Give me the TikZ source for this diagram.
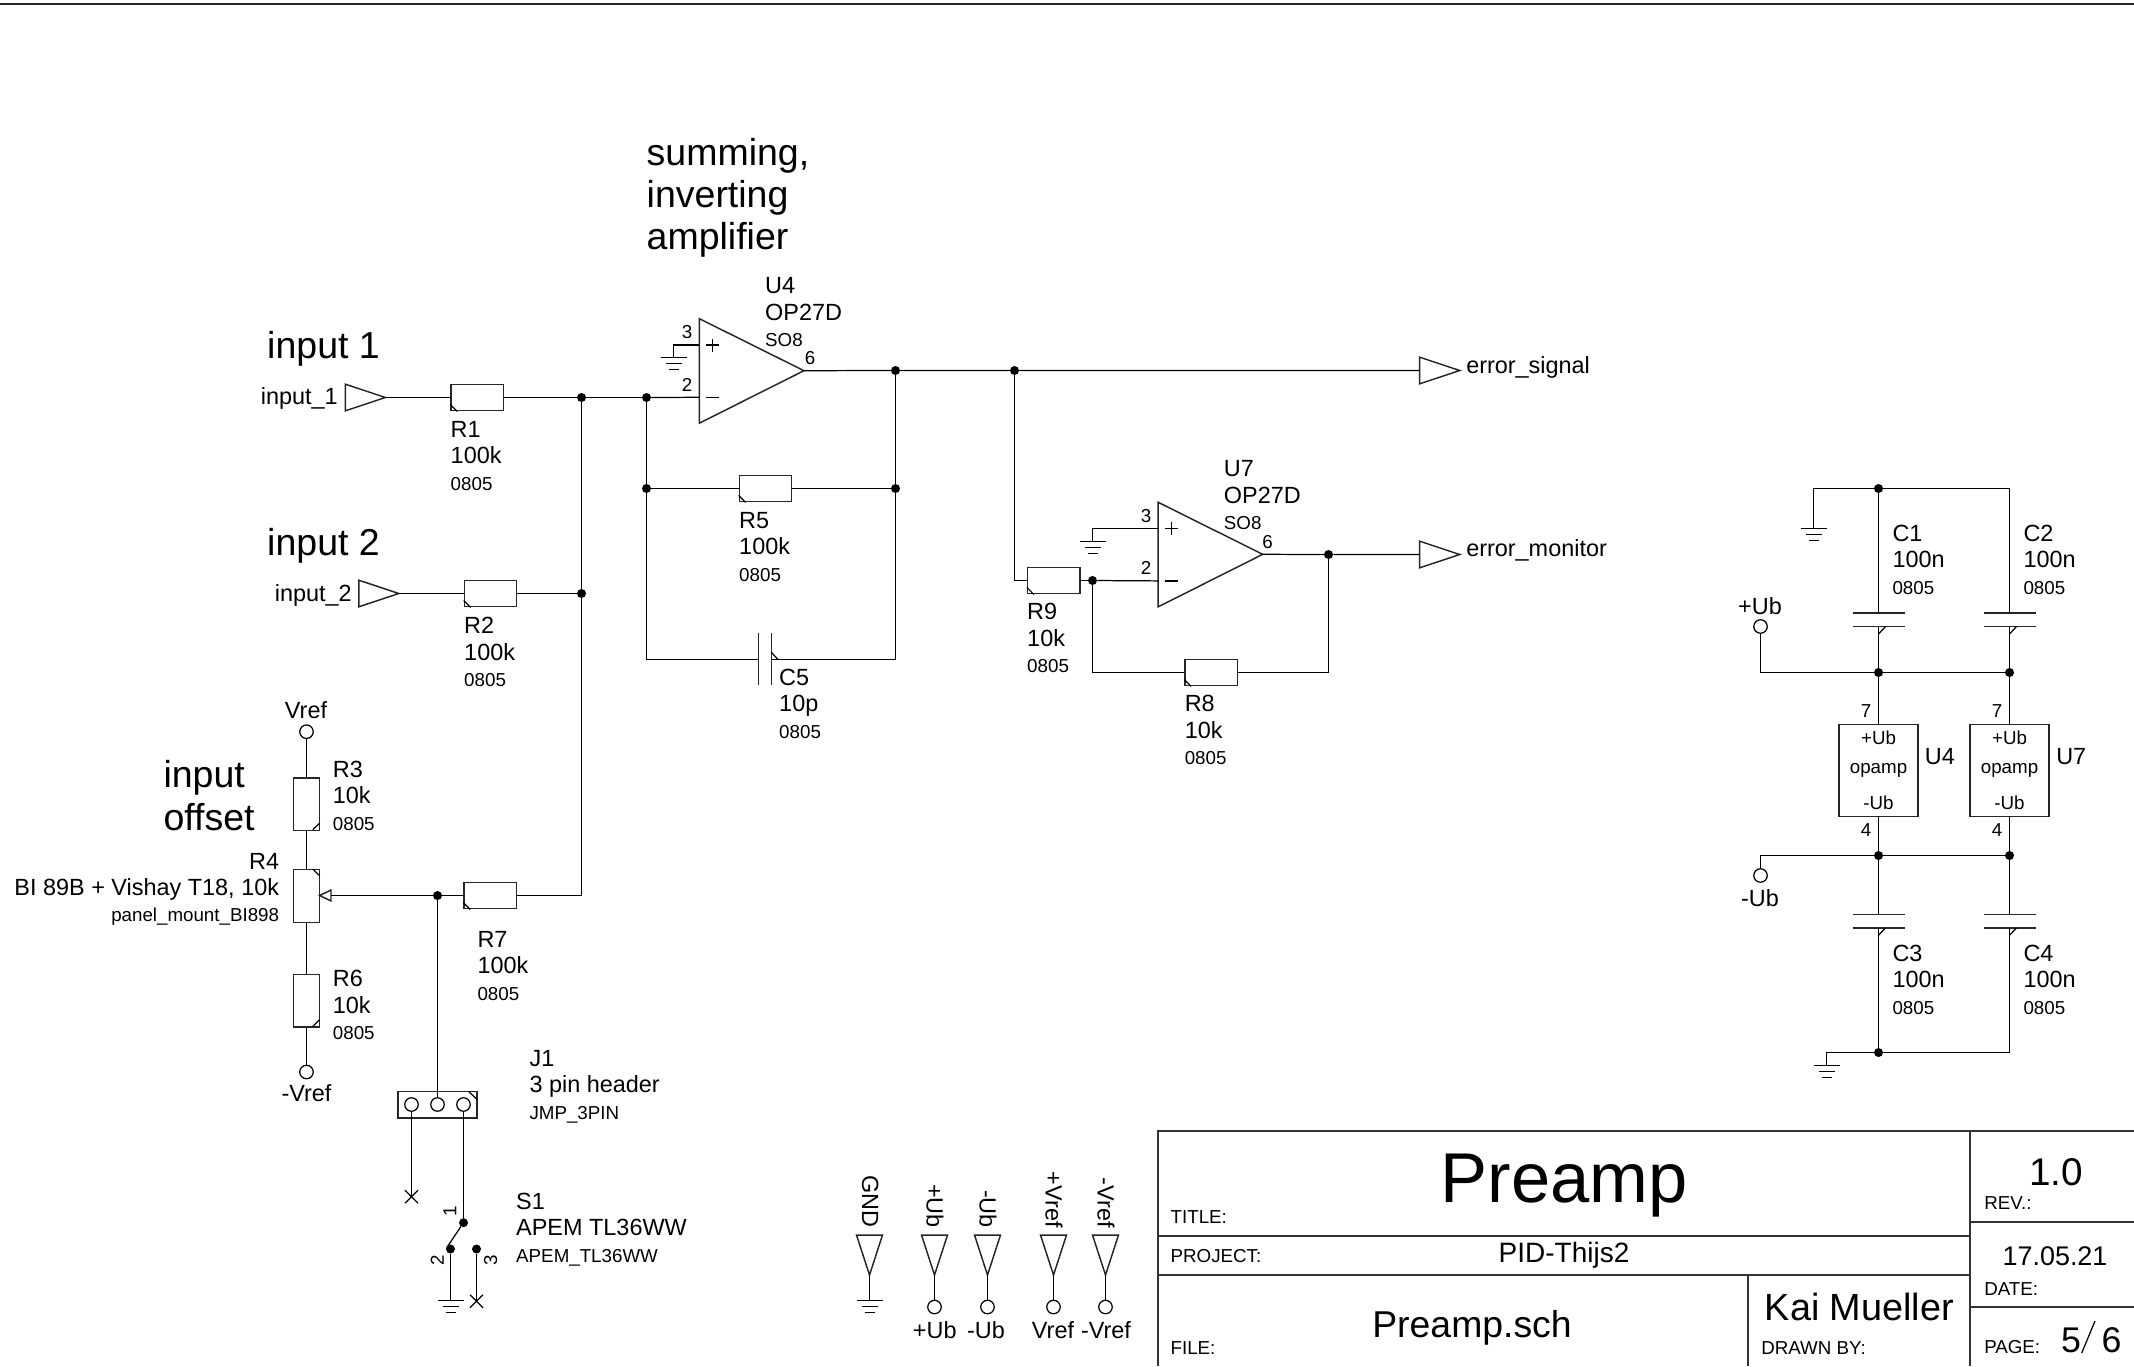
\documentclass[tikz,border=0pt]{standalone}
\usepackage{fontspec}
\setmainfont{Liberation Sans}
\usetikzlibrary{calc}
\newcommand{\fsA}{\fontsize{20pt}{24pt}\selectfont}
\newcommand{\fsB}{\fontsize{16pt}{20pt}\selectfont}
\newcommand{\fsC}{\fontsize{32pt}{36pt}\selectfont}
\tikzset{
  x=0.03cm,y=-0.03cm,
  wire/.style={draw=black,line width=1.05pt},
  comp/.style={draw=black!85,line width=1.25pt},
  dotj/.style={circle,fill=black,inner sep=0pt,minimum size=9*0.8536pt},
  txt/.style={inner sep=0pt,anchor=base west,font=\fsA},
  txts/.style={inner sep=0pt,anchor=base west,font=\fsB},
  txtb/.style={inner sep=0pt,anchor=base west,font=\fsC},
  pin/.style={inner sep=0pt,font=\fsB},
  tb/.style={draw=black!80,line width=1.5pt},
}
\newcommand{\Rh}[3]{% name, left x, wire y
  \node[comp,rectangle,minimum width=52.3*0.8536pt,minimum height=26.4*0.8536pt,inner sep=0pt,anchor=west] (#1) at (#2,#3) {};
  \draw[wire] ($(#1.south west)+(0,-7)$) -- ($(#1.south west)+(7,0)$);}
\newcommand{\Rv}[3]{% name, center x, top y
  \node[comp,rectangle,minimum width=26.4*0.8536pt,minimum height=52.6*0.8536pt,inner sep=0pt,anchor=north] (#1) at (#2,#3) {};}
\newcommand{\stackl}[6]{% x, y, l1,l2,l3, name
  \node[txt] (#6a) at (#1,#2) {#3};
  \node[txt] (#6b) at (#1,#2+26.6) {#4};
  \node[txts] (#6c) at (#1,#2+53.3) {#5};}
\newcommand{\gnd}[3]{% name,x,y  top bar
  \coordinate (#1) at (#2,#3);
  \draw[wire] (#2-13,#3) -- (#2+13,#3);
  \draw[wire] (#2-8,#3+6) -- (#2+8,#3+6);
  \draw[wire] (#2-5,#3+12) -- (#2+5,#3+12);}
\newcommand{\ring}[3]{\node[circle,draw=black,line width=1.05pt,minimum size=13.5*0.8536pt,inner sep=0pt] (#1) at (#2,#3) {};}
\newcommand{\jd}[3]{\node[dotj] (#1) at (#2,#3) {};}
\newcommand{\tri}[4]{% name, left x, wire y, length
  \coordinate (#1w) at (#2,#3);
  \coordinate (#1t) at (#2+#4,#3);
  \draw[comp,line join=miter] (#2,#3-13.3) -- (#2+#4,#3) -- (#2,#3+13.3) -- cycle;}
\newcommand{\crossm}[3]{\coordinate (#1) at (#2,#3);
  \draw[wire] (#2-6.5,#3-6.5) -- (#2+6.5,#3+6.5);
  \draw[wire] (#2-6.5,#3+6.5) -- (#2+6.5,#3-6.5);}
\newcommand{\capv}[3]{% name, x, top plate y
  \coordinate (#1t) at (#2,#3);
  \coordinate (#1b) at (#2,#3+13.5);
  \draw[comp] (#2-26,#3) -- (#2+26,#3);
  \draw[comp] (#2-26,#3+13.5) -- (#2+26,#3+13.5);
  \draw[wire] (#2,#3+21) -- (#2+7,#3+13.5);}
\newcommand{\opamp}[3]{% name, left x, top y
  \coordinate (#1p) at (#2,#3+26.3);
  \coordinate (#1n) at (#2,#3+78.6);
  \coordinate (#1o) at (#2+104.5,#3+52);
  \draw[comp,line join=miter] (#2,#3) -- (#2+104.5,#3+52) -- (#2,#3+104.5) -- cycle;
  \draw[wire] (#2+6.5,#3+26.3) -- (#2+19.5,#3+26.3) (#2+13,#3+20) -- (#2+13,#3+33);
  \draw[wire] (#2+6.5,#3+78.6) -- (#2+19.5,#3+78.6);}
\begin{document}
\begin{tikzpicture}
\useasboundingbox (0,0) rectangle (2134,1366);
\draw[draw=black!85,line width=1.5pt] (0,4) -- (2134,4);

% ---- big notes
\node[txtb] (n1) at (646.5,165) {summing,};
\node[txtb] (n2) at (646.5,207) {inverting};
\node[txtb] (n3) at (646.5,249) {amplifier};
\node[txtb] (n4) at (267,358) {input 1};
\node[txtb] (n5) at (267,555) {input 2};
\node[txtb] (n6) at (163.3,787.5) {input};
\node[txtb] (n7) at (163.3,830) {offset};

% ---- input 1, input 2
\tri{ti}{345.4}{397.5}{40}
\node[txt,anchor=base east] (lti) at (338,404) {input\_1};
\Rh{R1}{450.3}{397.5}
\stackl{450.5}{437}{R1}{100k}{0805}{sR1}
\tri{tj}{358.8}{593.5}{40}
\node[txt,anchor=base east] (ltj) at (352,601) {input\_2};
\Rh{R2}{463.7}{593.5}
\stackl{464}{633.5}{R2}{100k}{0805}{sR2}
\jd{j1}{581.5}{397.5}
\jd{j2}{581.5}{593.5}
\jd{j3}{646.5}{397.5}
\jd{j4}{646.5}{488.5}
\draw[wire] (tit) -- (R1.west);
\draw[wire] (tjt) -- (R2.west);
\draw[wire] (R2.east) -- (j2);
\draw[wire] (R1.east) -- (j1) -- (j3);

% ---- U4
\opamp{U}{699.4}{318.7}
\draw[wire] (j3) -- (Un);
\gnd{gU}{673.5}{357.5}
\draw[wire] (Up) -| (gU);
\node[pin] (p43) at (687,332) {3};
\node[pin] (p42) at (687,385) {2};
\node[pin] (p46) at (810,358.5) {6};
\stackl{765}{293.5}{U4}{OP27D}{SO8}{sU4}
\jd{j5}{895.5}{370.5}
\jd{j6}{895.5}{488.5}
\jd{j7}{1014.5}{370.5}
\tri{te}{1419.7}{370.5}{40}
\node[txt] (lte) at (1466,373) {error\_signal};
\draw[wire] (Uo) -- (j5) -- (j7) -- (tew);
\draw[wire] (j5) -- (j6);
% R5
\Rh{R5}{738.6}{488.5}
\stackl{739}{528}{R5}{100k}{0805}{sR5}
\draw[wire] (j4) -- (R5.west);
\draw[wire] (R5.east) -- (j6);
\draw[wire] (j3) -- (j4);
% C5
\coordinate (c5a) at (758.5,659.5);
\coordinate (c5b) at (771.5,659.5);
\draw[comp] (758.5,633.3) -- (758.5,685.3);
\draw[comp] (771.5,633.3) -- (771.5,685.3);
\draw[wire] (771.5,652.5) -- (778,659.5);
\draw[wire] (j4) |- (c5a);
\draw[wire] (j6) |- (c5b);
\node[txt] (c5l1) at (779,685) {C5};
\node[txt] (c5l2) at (779,711) {10p};
\node[txts] (c5l3) at (779,738) {0805};

% ---- U7
\Rh{R9}{1026.8}{580.5}
\stackl{1027}{619.5}{R9}{10k}{0805}{sR9}
\jd{j8}{1092.5}{580.5}
\draw[wire] (j7) |- (R9.west);
\draw[wire] (R9.east) -- (j8);
\opamp{V}{1158.2}{502.3}
\draw[wire] (j8) -- (Vn);
\gnd{gV}{1092.5}{541.5}
\draw[wire] (Vp) -| (gV);
\node[pin] (p73) at (1146,516) {3};
\node[pin] (p72) at (1146,567.7) {2};
\node[pin] (p76) at (1267.5,541.7) {6};
\stackl{1223.7}{476.5}{U7}{OP27D}{SO8}{sU7}
\jd{j9}{1328.5}{554.5}
\tri{tm}{1419.7}{554.5}{40}
\node[txt] (ltm) at (1466,556.5) {error\_monitor};
\draw[wire] (Vo) -- (j9) -- (tmw);
\Rh{R8}{1184.2}{672.5}
\stackl{1184.5}{711.5}{R8}{10k}{0805}{sR8}
\draw[wire] (j8) |- (R8.west);
\draw[wire] (j9) |- (R8.east);

% ---- offset network
\ring{rv}{306.5}{731.7}
\node[txt,anchor=base] (lrv) at (306,718) {Vref};
\Rv{R3}{306.5}{777.3}
\draw[wire] (319.7,823) -- (312.8,829.7);
\Rv{R4}{306.5}{869}
\draw[wire] (319.7,875.8) -- (312.8,869);
\Rv{R6}{306.5}{973.7}
\draw[wire] (319.7,1019.6) -- (312.8,1026.3);
\ring{rm}{306.5}{1072}
\node[txt,anchor=base] (lrm) at (306.5,1101.7) {-Vref};
\draw[wire] (rv) -- (R3);
\draw[wire] (R3) -- (R4);
\draw[wire] (R4) -- (R6);
\draw[wire] (R6) -- (rm);
\stackl{332.7}{777}{R3}{10k}{0805}{sR3}
\stackl{332.7}{986.5}{R6}{10k}{0805}{sR6}
\node[txt,anchor=base east] (R4a) at (279.3,869) {R4};
\node[txt,anchor=base east] (R4b) at (279.3,895.3) {BI 89B + Vishay T18, 10k};
\node[txts,anchor=base east] (R4c) at (279.3,921.5) {panel\_mount\_BI898};
\coordinate (wip) at (331,895.5);
\draw[comp,line join=miter] (319.7,895.5) -- (331,890) -- (331,901) -- cycle;
\jd{j10}{437.5}{895.5}
\Rh{R7}{463.3}{895.5}
\stackl{477.3}{947}{R7}{100k}{0805}{sR7}
\draw[wire] (wip) -- (j10) -- (R7.west);
\draw[wire] (R7.east) -| (j2);
\draw[wire] (j1) -- (j2);
% J1
\node[comp,rectangle,minimum width=79.3*0.8536pt,minimum height=26.3*0.8536pt,inner sep=0pt] (J1) at (437.5,1104.8) {};
\draw[wire] (469,1091.7) -- (477,1099.5);
\ring{ja}{411.5}{1104.5}
\ring{jb}{437.5}{1104.5}
\ring{jc}{463.5}{1104.5}
\draw[wire] (j10) -- (jb);
\crossm{xa}{411.5}{1196.7}
\draw[wire] (ja) -- (xa);
\jd{s1}{463.5}{1222.7}
\jd{s2}{450.5}{1249}
\jd{s3}{476.5}{1249}
\coordinate (arm) at (446.7,1247.7);
\draw[wire] (jc) -- (s1);
\draw[wire] (s1) -- (arm);
\gnd{gS}{450.5}{1300.5}
\draw[wire] (s2) -- (gS);
\crossm{xb}{476.5}{1301.3}
\draw[wire] (s3) -- (xb);
\node[pin,rotate=90] (ps1) at (450,1211.7) {1};
\node[pin,rotate=90] (ps2) at (437.3,1260) {2};
\node[pin,rotate=90] (ps3) at (490.7,1260) {3};
\stackl{529.3}{1066}{J1}{3 pin header}{JMP\_3PIN}{sJ1}
\stackl{516}{1209.3}{S1}{APEM TL36WW}{APEM\_TL36WW}{sS1}

% ---- supply section
\jd{k1}{1878.5}{488.5}
\coordinate (k2) at (2009.5,488.5);
\gnd{gA}{1813.5}{528.5}
\draw[wire] (k2) -- (k1) -| (gA);
\capv{C1}{1878.5}{613}
\capv{C2}{2009.5}{613}
\draw[wire] (k1) -- (C1t);
\draw[wire] (k2) -- (C2t);
\stackl{1892.3}{541}{C1}{100n}{0805}{sC1}
\stackl{2023.3}{541}{C2}{100n}{0805}{sC2}
\ring{rp}{1760.5}{626.5}
\node[txt,anchor=base] (lrp) at (1760,614) {+Ub};
\jd{k3}{1878.5}{672.5}
\jd{k4}{2009.5}{672.5}
\draw[wire] (rp) |- (k3) -- (k4);
\draw[wire] (C1b) -- (k3);
\draw[wire] (C2b) -- (k4);
\node[comp,rectangle,minimum width=79.3*0.8536pt,minimum height=92*0.8536pt,inner sep=0pt] (bU) at (1878.5,770.5) {};
\node[comp,rectangle,minimum width=79*0.8536pt,minimum height=92*0.8536pt,inner sep=0pt] (bV) at (2009.5,770.5) {};
\foreach \nm/\xx in {a/1878.5,b/2009.5}{
  \node[txts,anchor=base] (bp\nm) at (\xx,744.5) {+Ub};
  \node[txts,anchor=base] (bo\nm) at (\xx,773) {opamp};
  \node[txts,anchor=base] (bm\nm) at (\xx,809) {-Ub};
}
\node[txt] (lbU) at (1924.7,764) {U4};
\node[txt] (lbV) at (2056,764) {U7};
\node[pin] (q1) at (1866,711) {7};
\node[pin] (q2) at (1997,711) {7};
\node[pin] (q3) at (1866,830) {4};
\node[pin] (q4) at (1997,830) {4};
\draw[wire] (k3) -- (bU);
\draw[wire] (k4) -- (bV);
\jd{k5}{1878.5}{855.5}
\jd{k6}{2009.5}{855.5}
\ring{rn}{1760.5}{875.5}
\node[txt,anchor=base] (lrn) at (1760,906) {-Ub};
\draw[wire] (rn) |- (k5) -- (k6);
\draw[wire] (bU) -- (k5);
\draw[wire] (bV) -- (k6);
\capv{C3}{1878.5}{914.3}
\capv{C4}{2009.5}{914.3}
\draw[wire] (k5) -- (C3t);
\draw[wire] (k6) -- (C4t);
\stackl{1892.3}{961}{C3}{100n}{0805}{sC3}
\stackl{2023.3}{961}{C4}{100n}{0805}{sC4}
\jd{k7}{1878.5}{1052.5}
\coordinate (k8) at (2009.5,1052.5);
\draw[wire] (C3b) -- (k7);
\draw[wire] (C4b) -- (k8) -- (k7);
\gnd{gB}{1826.5}{1065.5}
\draw[wire] (k7) -| (gB);

% ---- supply symbols
\foreach \nm/\xx/\lb in {a/934.5/+Ub,b/987.5/-Ub,c/1053.5/+Vref,d/1105.5/-Vref}{
  \draw[comp,line join=miter] (\xx-13,1235) -- (\xx+13,1235) -- (\xx,1275) -- cycle;
  \ring{sy\nm}{\xx}{1307}
  \draw[wire] (\xx,1275) -- (sy\nm);
  \node[txt,rotate=-90,anchor=base east] (st\nm) at (\xx-8,1228) {\lb};
}
\draw[comp,line join=miter] (856.5,1235) -- (882.5,1235) -- (869.5,1275) -- cycle;
\gnd{gS2}{869.5}{1300.5}
\draw[wire] (869.5,1275) -- (gS2);
\node[txt,rotate=-90,anchor=base east] (stg) at (862,1228) {GND};
\node[txt,anchor=base] (bl1) at (934.8,1338) {+Ub};
\node[txt,anchor=base] (bl2) at (986,1338) {-Ub};
\node[txt,anchor=base] (bl3) at (1053,1338) {Vref};
\node[txt,anchor=base] (bl4) at (1106,1338) {-Vref};

% ---- title block
\draw[tb] (2134,1130.7) -- (1157.8,1130.7) -- (1157.8,1366);
\draw[tb] (1970,1130.7) -- (1970,1366);
\draw[tb] (1157.8,1235.7) -- (1970,1235.7);
\draw[tb] (1157.8,1274.7) -- (1970,1274.7);
\draw[tb] (1748,1274.7) -- (1748,1366);
\draw[tb] (1970,1222) -- (2134,1222);
\draw[tb] (1970,1307.3) -- (2134,1307.3);
\node[txts] (t1) at (1170.4,1223) {TITLE:};
\node[txts] (t2) at (1170.4,1262) {PROJECT:};
\node[txts] (t3) at (1170.4,1354) {FILE:};
\node[txts] (t4) at (1761,1354) {DRAWN BY:};
\node[txts] (t5) at (1984,1209.5) {REV.:};
\node[txts] (t6) at (1984,1295) {DATE:};
\node[txts] (t7) at (1984,1353) {PAGE:};
\node[inner sep=0pt,anchor=base,font=\fontsize{60.2pt}{60pt}\selectfont] (v1) at (1564,1202) {Preamp};
\node[inner sep=0pt,anchor=base,font=\fontsize{23.9pt}{28pt}\selectfont] (v2) at (1564,1262) {PID-Thijs2};
\node[inner sep=0pt,anchor=base,font=\fontsize{31.9pt}{36pt}\selectfont] (v3) at (1472,1337) {Preamp.sch};
\node[inner sep=0pt,anchor=base,font=\fontsize{32.3pt}{36pt}\selectfont] (v4) at (1859.4,1320) {Kai Mueller};
\node[inner sep=0pt,anchor=base,font=\fontsize{33pt}{36pt}\selectfont] (v5) at (2056,1185) {1.0};
\node[inner sep=0pt,anchor=base,font=\fontsize{23pt}{28pt}\selectfont] (v6) at (2055,1265) {17.05.21};
\node[inner sep=0pt,anchor=base,font=\fontsize{30.5pt}{36pt}\selectfont] (v7) at (2071,1352) {5};
\node[inner sep=0pt,anchor=base,font=\fontsize{30.5pt}{36pt}\selectfont] (v8) at (2111.5,1352) {6};
\draw[wire] (2081.7,1353) -- (2095,1321);
\end{tikzpicture}
\end{document}
